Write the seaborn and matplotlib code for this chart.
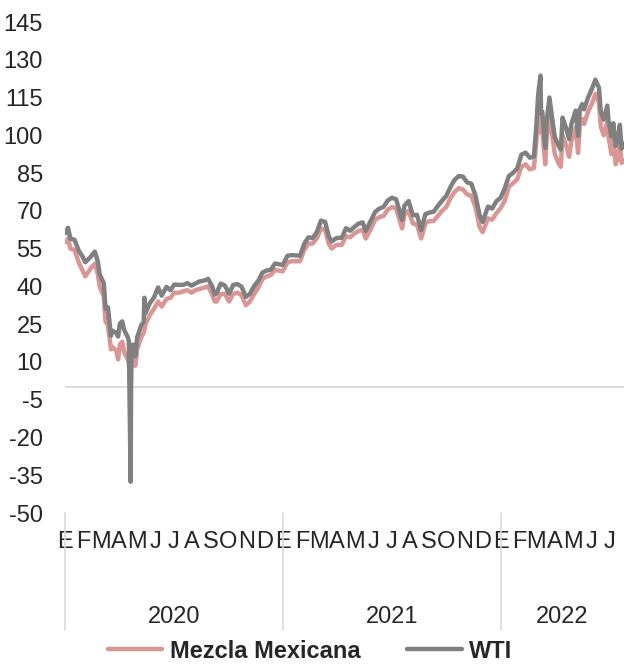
import pandas as pd
import seaborn as sns
import matplotlib.pyplot as plt
import matplotlib.transforms as mtransforms

# precio del crudo, usd por barril (lectura aproximada de la gráfica)
dates = [
    # 2020
    '2020-01-02', '2020-01-06', '2020-01-10', '2020-01-17', '2020-01-24', '2020-01-31',
    '2020-02-04', '2020-02-07', '2020-02-14', '2020-02-20', '2020-02-25', '2020-02-28',
    '2020-03-06', '2020-03-09', '2020-03-13', '2020-03-18', '2020-03-20', '2020-03-27', '2020-03-30',
    '2020-04-02', '2020-04-06', '2020-04-09', '2020-04-15', '2020-04-17', '2020-04-20', '2020-04-21', '2020-04-24', '2020-04-28',
    '2020-05-01', '2020-05-08', '2020-05-12', '2020-05-13', '2020-05-15', '2020-05-22', '2020-05-29',
    '2020-06-05', '2020-06-11', '2020-06-19', '2020-06-26',
    '2020-07-02', '2020-07-10', '2020-07-17', '2020-07-24', '2020-07-31',
    '2020-08-07', '2020-08-14', '2020-08-21', '2020-08-28',
    '2020-09-04', '2020-09-08', '2020-09-11', '2020-09-18', '2020-09-25',
    '2020-10-02', '2020-10-09', '2020-10-16', '2020-10-23', '2020-10-30',
    '2020-11-06', '2020-11-13', '2020-11-20', '2020-11-27',
    '2020-12-04', '2020-12-11', '2020-12-18', '2020-12-31',
    # 2021
    '2021-01-08', '2021-01-15', '2021-01-22', '2021-01-29',
    '2021-02-05', '2021-02-12', '2021-02-19', '2021-02-26',
    '2021-03-05', '2021-03-12', '2021-03-18', '2021-03-23', '2021-03-31',
    '2021-04-09', '2021-04-16', '2021-04-23', '2021-04-30',
    '2021-05-07', '2021-05-14', '2021-05-19', '2021-05-28',
    '2021-06-04', '2021-06-11', '2021-06-18', '2021-06-25',
    '2021-07-02', '2021-07-09', '2021-07-19', '2021-07-23', '2021-07-30',
    '2021-08-06', '2021-08-13', '2021-08-20', '2021-08-27',
    '2021-09-03', '2021-09-10', '2021-09-17', '2021-09-24',
    '2021-10-01', '2021-10-08', '2021-10-15', '2021-10-22', '2021-10-29',
    '2021-11-05', '2021-11-12', '2021-11-19', '2021-11-26',
    '2021-12-01', '2021-12-10', '2021-12-17', '2021-12-24', '2021-12-31',
    # 2022
    '2022-01-07', '2022-01-14', '2022-01-21', '2022-01-28',
    '2022-02-04', '2022-02-11', '2022-02-18', '2022-02-25',
    '2022-03-01', '2022-03-04', '2022-03-08', '2022-03-09', '2022-03-11', '2022-03-16', '2022-03-18', '2022-03-23', '2022-03-29',
    '2022-04-01', '2022-04-07', '2022-04-11', '2022-04-14', '2022-04-20', '2022-04-25', '2022-04-29',
    '2022-05-06', '2022-05-10', '2022-05-13', '2022-05-17', '2022-05-20', '2022-05-27',
    '2022-06-03', '2022-06-08', '2022-06-14', '2022-06-17', '2022-06-22', '2022-06-28', '2022-06-30',
    '2022-07-05', '2022-07-08', '2022-07-12', '2022-07-15', '2022-07-19', '2022-07-22', '2022-07-25',
]

wti = [
    61.2, 63.3, 59.0, 58.5, 54.2, 51.6,
    49.6, 50.3, 52.0, 53.8, 49.9, 44.8,
    41.3, 31.1, 31.7, 20.4, 22.4, 21.5, 20.1,
    25.3, 26.1, 22.8, 19.9, 18.3, -37.6, 10.0, 16.9, 12.3,
    19.8, 24.7, 25.8, 35.5, 29.4, 33.3, 35.5,
    39.6, 36.3, 39.8, 38.5,
    40.7, 40.6, 40.6, 41.3, 40.3,
    41.2, 42.0, 42.3, 43.0,
    39.8, 36.8, 37.3, 41.1, 40.3,
    37.1, 40.6, 40.9, 39.9, 35.8,
    37.1, 40.1, 42.2, 45.5,
    46.3, 46.6, 49.1, 48.5,
    52.2, 52.4, 52.3, 52.2,
    56.9, 59.5, 59.2, 61.5,
    66.1, 65.6, 60.0, 57.8, 59.2,
    59.3, 63.1, 62.1, 63.6,
    64.9, 65.4, 62.0, 66.3,
    69.6, 70.9, 71.6, 74.1,
    75.2, 74.6, 66.4, 72.1, 73.9,
    68.3, 68.4, 62.3, 68.7,
    69.3, 69.7, 72.0, 74.0,
    75.9, 79.4, 82.3, 83.8, 83.6,
    81.3, 80.8, 76.1, 68.2,
    65.6, 71.7, 70.9, 73.8, 75.2,
    78.9, 83.8, 85.1, 86.8,
    92.3, 93.1, 91.1, 91.6,
    103.4, 115.7, 123.7, 108.7, 109.3, 95.0, 104.7, 115.0, 104.2,
    99.3, 96.0, 94.3, 107.0, 102.8, 98.5, 104.7,
    109.8, 99.8, 110.5, 112.4, 110.3, 115.1,
    118.9, 122.1, 118.9, 109.6, 106.2, 111.8, 105.8,
    99.5, 104.8, 95.8, 97.6, 104.2, 94.7, 96.7,
]

mezcla = [
    57.5, 59.0, 55.0, 54.5, 49.5, 46.0,
    44.0, 45.0, 47.5, 49.0, 45.0, 40.0,
    36.0, 26.0, 24.5, 15.0, 16.0, 14.5, 11.0,
    17.0, 18.0, 14.0, 11.0, 10.0, -2.4, 7.0, 10.5, 8.5,
    15.0, 20.0, 21.5, 22.5, 25.0, 28.5, 31.0,
    34.0, 32.0, 35.0, 35.5,
    37.5, 37.5, 38.0, 38.5, 37.5,
    38.5, 39.0, 39.5, 40.0,
    36.5, 34.0, 34.0, 37.0, 37.0,
    34.0, 37.0, 37.5, 36.5, 32.5,
    34.0, 37.0, 39.5, 43.0,
    44.0, 44.5, 46.5, 46.0,
    49.5, 50.0, 50.0, 50.0,
    54.5, 57.0, 57.0, 59.0,
    63.0, 62.5, 57.0, 55.0, 56.5,
    56.5, 60.0, 59.5, 61.0,
    62.0, 62.5, 59.0, 63.0,
    66.5, 67.5, 68.0, 70.5,
    71.5, 71.0, 63.0, 68.5, 70.0,
    65.0, 64.5, 59.0, 65.0,
    66.0, 66.0, 68.0, 70.0,
    71.5, 75.0, 77.5, 79.0, 78.5,
    76.5, 76.0, 71.5, 63.5,
    61.5, 67.0, 66.5, 69.0, 71.0,
    74.0, 79.5, 81.0, 82.5,
    87.5, 88.5, 86.5, 87.0,
    97.0, 108.5, 113.0, 101.0, 102.0, 88.5, 97.5, 108.0, 97.5,
    92.5, 89.0, 87.5, 100.0, 96.0, 91.5, 98.0,
    103.0, 93.0, 104.0, 106.5, 104.5, 109.5,
    113.0, 116.5, 113.0, 103.5, 100.0, 105.5, 99.5,
    92.5, 98.0, 88.5, 90.5, 97.0, 89.0, 90.0,
]

series_names = ['Mezcla Mexicana', 'WTI']
month_letters = ['E', 'F', 'M', 'A', 'M', 'J', 'J', 'A', 'S', 'O', 'N', 'D']
years = ['2020', '2021', '2022']
y_ticks = list(range(-50, 146, 15))

df = pd.DataFrame({'fecha': pd.to_datetime(dates), 'Mezcla Mexicana': mezcla, 'WTI': wti})
long_df = df.melt(id_vars='fecha', var_name='serie', value_name='precio')

sns.set_style('white')
plt.rcParams['font.family'] = ['Liberation Sans', 'DejaVu Sans']
plt.rcParams['axes.unicode_minus'] = False

fig = plt.figure(figsize=(6.24, 6.65), dpi=100)
ax = fig.add_axes([65 / 624, 1 - 513 / 665, 559 / 624, 491 / 665])

ax.axhline(0, color='#D9D9D9', lw=1.3, zorder=1)

sns.lineplot(data=long_df, x='fecha', y='precio', hue='serie', hue_order=series_names,
             palette=['#D99694', '#808080'], lw=3.2, ax=ax, zorder=3)

ax.set_ylim(-50, 145)
ax.set_yticks(y_ticks)
ax.set_xlim(pd.Timestamp('2020-01-01'), pd.Timestamp('2022-07-26'))

# etiquetas de mes
month_starts = pd.date_range('2020-01-01', '2022-07-01', freq='MS')
ax.set_xticks(month_starts)
ax.set_xticklabels([month_letters[d.month - 1] for d in month_starts])
ax.tick_params(axis='x', length=0, pad=13, labelsize=17)
ax.tick_params(axis='y', length=0, pad=16, labelsize=17)
ax.set_xlabel('')
ax.set_ylabel('')
for s in ax.spines.values():
    s.set_visible(False)

# años y separadores
trans = mtransforms.blended_transform_factory(ax.transData, ax.transAxes)
year_edges = [pd.Timestamp('2020-01-01'), pd.Timestamp('2021-01-01'),
              pd.Timestamp('2022-01-01'), pd.Timestamp('2022-07-26')]
for i, yr in enumerate(years):
    x0 = year_edges[i]
    x1 = year_edges[i + 1]
    ax.plot([x0, x0], [0, -0.238], transform=trans, color='#D9D9D9', lw=1.2, clip_on=False)
    ax.text(x0 + (x1 - x0) / 2, -0.212, yr, transform=trans, ha='center', va='center', fontsize=17)

handles, labels = ax.get_legend_handles_labels()
ax.get_legend().remove()
fig.legend(handles, labels, loc='center', bbox_to_anchor=(0.497, 0.021), ncol=2, frameon=False,
           prop={'weight': 'bold', 'size': 17}, handlelength=2.3, handletextpad=0.3, columnspacing=2.0)

fig.savefig('out.png', dpi=100)
